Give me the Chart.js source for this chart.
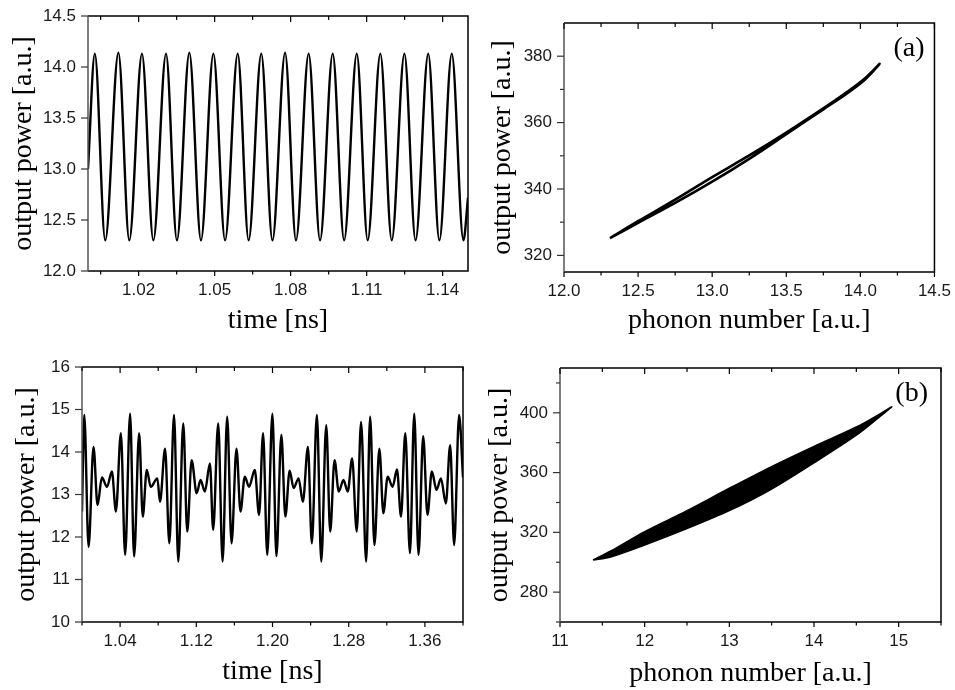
<!DOCTYPE html>
<html><head><meta charset="utf-8">
<script src="https://cdn.jsdelivr.net/npm/chart.js@4.4.0/dist/chart.umd.min.js"></script>
<style>
html,body{margin:0;padding:0;background:#fff;width:955px;height:690px;overflow:hidden}
canvas{position:absolute}
</style></head><body>
<canvas id="c1" width="480" height="345" style="left:0;top:0"></canvas>
<canvas id="c2" width="475" height="345" style="left:480px;top:0"></canvas>
<canvas id="c3" width="480" height="345" style="left:0;top:345px"></canvas>
<canvas id="c4" width="475" height="345" style="left:480px;top:345px"></canvas>
<script>
// ---------- Panel (top-left): output power vs time ----------
const t1Time = [1.0000, 1.0027, 1.0068, 1.0120, 1.0163, 1.0213, 1.0258, 1.0308, 1.0351, 1.0400, 1.0446,
  1.0495, 1.0541, 1.0591, 1.0634, 1.0684, 1.0728, 1.0778, 1.0821, 1.0871, 1.0916, 1.0966, 1.1011,
  1.1061, 1.1104, 1.1154, 1.1199, 1.1249, 1.1293, 1.1343, 1.1387, 1.1436, 1.1482, 1.1500];
const t1Power = [13.00,
  14.13, 12.30, 14.14, 12.30, 14.13, 12.30, 14.13, 12.30, 14.14, 12.30, 14.13, 12.30, 14.13, 12.30, 14.13, 12.30,
  14.14, 12.30, 14.13, 12.30, 14.13, 12.30, 14.13, 12.30, 14.13, 12.30, 14.13, 12.30, 14.13, 12.30, 14.13, 12.30,
  12.72];
const x1Major = [1.02, 1.05, 1.08, 1.11, 1.14];
const x1Labels = ['1.02', '1.05', '1.08', '1.11', '1.14'];
const x1Minor = [1.005, 1.035, 1.065, 1.095, 1.125];
const y1Major = [12.0, 12.5, 13.0, 13.5, 14.0, 14.5];
const y1Labels = ['12.0', '12.5', '13.0', '13.5', '14.0', '14.5'];

// ---------- Panel (top-right): output power vs phonon number, (a) ----------
const loopPhonon = [12.31, 12.5, 12.75, 13.0, 13.25, 13.5, 13.75, 13.9, 14.03, 14.13,
  14.03, 13.9, 13.75, 13.5, 13.25, 13.0, 12.75, 12.5, 12.31];
const loopPower = [325.2, 330.3, 336.8, 343.6, 350.1, 357.0, 364.3, 368.9, 373.3, 377.7,
  372.9, 368.5, 364.0, 356.5, 349.1, 342.2, 335.8, 329.8, 325.2];
const x2Major = [12.0, 12.5, 13.0, 13.5, 14.0, 14.5];
const x2Labels = ['12.0', '12.5', '13.0', '13.5', '14.0', '14.5'];
const x2Minor = [12.25, 12.75, 13.25, 13.75, 14.25];
const y2Major = [320, 340, 360, 380];
const y2Labels = ['320', '340', '360', '380'];
const y2Minor = [330, 350, 370];

// ---------- Panel (bottom-left): output power vs time ----------
const t3Time = [1.0000,1.0024,1.0069,1.0121,1.0163,1.0209,1.0262,1.0314,1.0356,1.0408,
  1.0453,1.0505,1.0547,1.0600,1.0638,1.0680,1.0722,1.0791,1.0819,1.0872,
  1.0917,1.0966,1.1011,1.1063,1.1105,1.1151,1.1204,1.1245,1.1290,1.1343,
  1.1377,1.1430,1.1476,1.1524,1.1570,1.1622,1.1664,1.1709,1.1754,1.1814,
  1.1859,1.1901,1.1945,1.1999,1.2041,1.2093,1.2135,1.2180,1.2222,1.2274,
  1.2319,1.2372,1.2413,1.2466,1.2512,1.2564,1.2606,1.2651,1.2696,1.2745,
  1.2790,1.2836,1.2884,1.2930,1.2983,1.3025,1.3070,1.3122,1.3164,1.3209,
  1.3261,1.3307,1.3349,1.3394,1.3443,1.3488,1.3533,1.3582,1.3627,1.3673,
  1.3722,1.3768,1.3820,1.3865,1.3907,1.3959,1.4000];
const t3Power = [12.60,14.87,11.77,14.12,12.75,13.40,13.18,13.54,12.60,14.44,
  11.58,14.90,11.54,14.44,12.48,13.58,13.18,13.38,12.83,14.08,
  11.85,14.87,11.42,14.67,12.13,13.81,13.03,13.34,13.07,13.73,
  12.17,14.67,11.42,14.83,11.85,14.08,12.60,13.42,13.18,13.58,
  12.52,14.44,11.58,14.90,11.55,14.40,12.48,13.56,13.15,13.38,
  12.83,14.12,11.85,14.87,11.42,14.63,12.13,13.81,13.07,13.34,
  13.07,13.85,12.13,14.71,11.42,14.83,11.81,14.08,12.56,13.42,
  13.18,13.59,12.48,14.44,11.62,14.90,11.58,14.37,12.52,13.54,
  13.11,13.38,12.79,14.16,11.81,14.87,13.40];
const x3Major = [1.04, 1.12, 1.20, 1.28, 1.36];
const x3Labels = ['1.04', '1.12', '1.20', '1.28', '1.36'];
const x3Minor = [1.00, 1.08, 1.16, 1.24, 1.32, 1.40];
const y3Major = [10, 11, 12, 13, 14, 15, 16];
const y3Labels = ['10', '11', '12', '13', '14', '15', '16'];

// ---------- Panel (bottom-right): output power vs phonon number, (b) ----------
const bandPhonon = [11.39, 11.6, 12.0, 12.5, 13.0, 13.5, 14.0, 14.5, 14.8, 14.92,
  14.8, 14.5, 14.0, 13.5, 13.0, 12.5, 12.0, 11.6, 11.39];
const bandPower = [301.5, 307.5, 320.5, 334.5, 349.5, 364.0, 377.5, 390.5, 400.0, 404.0,
  398.5, 385.0, 366.5, 349.0, 334.5, 322.5, 311.5, 303.5, 301.5];
const x4Major = [11, 12, 13, 14, 15];
const x4Labels = ['11', '12', '13', '14', '15'];
const x4Minor = [11.5, 12.5, 13.5, 14.5, 15.5];
const y4Major = [280, 320, 360, 400];
const y4Labels = ['280', '320', '360', '400'];
const y4Minor = [260, 300, 340, 380, 420];

const SANS = "'Liberation Sans', Arial, sans-serif";
const SERIF = "'Liberation Serif', 'Times New Roman', serif";
Chart.defaults.font.family = SANS;

const framePlugin = {
  id: 'frame',
  afterDatasetsDraw(chart, args, o) {
    const {ctx, chartArea: a} = chart;
    const xs = chart.scales.x, ys = chart.scales.y;
    ctx.save();
    ctx.lineCap = 'butt';
    ctx.lineWidth = 1.5;
    ctx.strokeStyle = '#000';
    ctx.beginPath();
    ctx.moveTo(a.left, a.bottom); ctx.lineTo(a.right, a.bottom);
    ctx.lineTo(a.right, a.top); ctx.lineTo(a.left, a.top);
    ctx.stroke();
    ctx.strokeStyle = '#555';
    ctx.beginPath(); ctx.moveTo(a.left, a.top); ctx.lineTo(a.left, a.bottom); ctx.stroke();
    ctx.strokeStyle = '#000';
    ctx.lineWidth = 1.2;
    const seg = (x1, y1, x2, y2) => { ctx.beginPath(); ctx.moveTo(x1, y1); ctx.lineTo(x2, y2); ctx.stroke(); };
    o.xMajor.forEach(v => { const p = xs.getPixelForValue(v); seg(p, a.bottom, p, a.bottom + 5); seg(p, a.top, p, a.top + 6); });
    o.xMinor.forEach(v => { const p = xs.getPixelForValue(v); seg(p, a.bottom, p, a.bottom + 3.5); seg(p, a.top, p, a.top + 4); });
    ctx.strokeStyle = '#333';
    o.yMajor.forEach(v => { const p = ys.getPixelForValue(v); seg(a.left - 7, p, a.left, p); });
    o.yMinor.forEach(v => { const p = ys.getPixelForValue(v); seg(a.left - 4, p, a.left, p); });
    if (o.tag) {
      ctx.fillStyle = '#000';
      ctx.font = '28px ' + SERIF;
      ctx.textAlign = 'right';
      ctx.textBaseline = 'alphabetic';
      ctx.fillText(o.tag, a.right - o.tagDx, a.top + o.tagDy);
    }
    ctx.restore();
  }
};

function build(id, o) {
  const allX = o.xMajor.concat(o.xMinor).sort((p, q) => p - q);
  const allY = o.yMajor.concat(o.yMinor).sort((p, q) => p - q);
  const lab = (major, labels) => (v) => {
    const i = major.findIndex(m => Math.abs(m - v) < 1e-9);
    return i < 0 ? '' : labels[i];
  };
  new Chart(document.getElementById(id), {
    type: 'line',
    data: {datasets: o.datasets},
    options: {
      responsive: false, animation: false, devicePixelRatio: 1,
      layout: {padding: o.pad},
      plugins: {
        legend: {display: false}, tooltip: {enabled: false},
        frame: {xMajor: o.xMajor, xMinor: o.xMinor, yMajor: o.yMajor, yMinor: o.yMinor,
                tag: o.tag, tagDx: o.tagDx, tagDy: o.tagDy}
      },
      scales: {
        x: {
          type: 'linear', position: 'bottom', min: o.xMin, max: o.xMax,
          afterBuildTicks: s => { s.ticks = allX.map(v => ({value: v})); },
          afterFit: s => { s.height = o.xH; },
          grid: {display: false, drawTicks: true, tickLength: 5},
          border: {display: false},
          ticks: {autoSkip: false, maxRotation: 0, minRotation: 0, padding: 4, color: '#1a1a1a',
                  font: {size: 17, family: SANS}, callback: lab(o.xMajor, o.xLabels)},
          title: {display: true, text: o.xTitle, color: '#000',
                  font: {size: 28, family: SERIF, lineHeight: 1}, padding: {top: 0, bottom: 0}}
        },
        y: {
          type: 'linear', position: 'left', min: o.yMin, max: o.yMax,
          afterBuildTicks: s => { s.ticks = allY.map(v => ({value: v})); },
          afterFit: s => { s.width = o.yW; },
          grid: {display: false, drawTicks: true, tickLength: 7},
          border: {display: false},
          ticks: {autoSkip: false, padding: 5, color: '#1a1a1a',
                  font: {size: 17, family: SANS}, callback: lab(o.yMajor, o.yLabels)},
          title: {display: true, text: 'output power [a.u.]', color: '#000',
                  font: {size: 28, family: SERIF, lineHeight: 1}, padding: {top: o.yTitlePad, bottom: 0}}
        }
      }
    },
    plugins: [framePlugin]
  });
}

const pts = (xs, ys) => xs.map((x, i) => ({x: x, y: ys[i]}));

build('c1', {
  datasets: [{data: pts(t1Time, t1Power), borderColor: '#000', borderWidth: 2.4, pointRadius: 0,
              cubicInterpolationMode: 'monotone', fill: false}],
  xMin: 1.00, xMax: 1.15, xMajor: x1Major, xLabels: x1Labels, xMinor: x1Minor,
  yMin: 12.0, yMax: 14.5, yMajor: y1Major, yLabels: y1Labels, yMinor: [],
  xTitle: 'time [ns]',
  pad: {left: 0, right: 12, top: 16, bottom: 10}, xH: 64, yW: 88, yTitlePad: 10
});

build('c2', {
  datasets: [{data: pts(loopPhonon, loopPower), borderColor: '#000', borderWidth: 2.6, pointRadius: 0,
              tension: 0.35, fill: false}],
  xMin: 12.0, xMax: 14.5, xMajor: x2Major, xLabels: x2Labels, xMinor: x2Minor,
  yMin: 315, yMax: 390, yMajor: y2Major, yLabels: y2Labels, yMinor: y2Minor,
  xTitle: 'phonon number [a.u.]', tag: '(a)', tagDx: 10, tagDy: 33,
  pad: {left: 0, right: 20, top: 23, bottom: 10}, xH: 63, yW: 84, yTitlePad: 9
});

build('c3', {
  datasets: [{data: pts(t3Time, t3Power), borderColor: '#000', borderWidth: 2.4, pointRadius: 0,
              cubicInterpolationMode: 'monotone', fill: false}],
  xMin: 1.00, xMax: 1.40, xMajor: x3Major, xLabels: x3Labels, xMinor: x3Minor,
  yMin: 10, yMax: 16, yMajor: y3Major, yLabels: y3Labels, yMinor: [],
  xTitle: 'time [ns]',
  pad: {left: 0, right: 17, top: 22, bottom: 4}, xH: 64, yW: 82, yTitlePad: 13
});

build('c4', {
  datasets: [{data: pts(bandPhonon, bandPower), borderColor: '#000', backgroundColor: '#000',
              borderWidth: 1.5, pointRadius: 0, tension: 0.3, fill: 'shape'}],
  xMin: 11, xMax: 15.5, xMajor: x4Major, xLabels: x4Labels, xMinor: x4Minor,
  yMin: 260, yMax: 430, yMajor: y4Major, yLabels: y4Labels, yMinor: y4Minor,
  xTitle: 'phonon number [a.u.]', tag: '(b)', tagDx: 13, tagDy: 33,
  pad: {left: 0, right: 14, top: 23, bottom: 2}, xH: 66, yW: 80, yTitlePad: 6
});
</script>
</body></html>
